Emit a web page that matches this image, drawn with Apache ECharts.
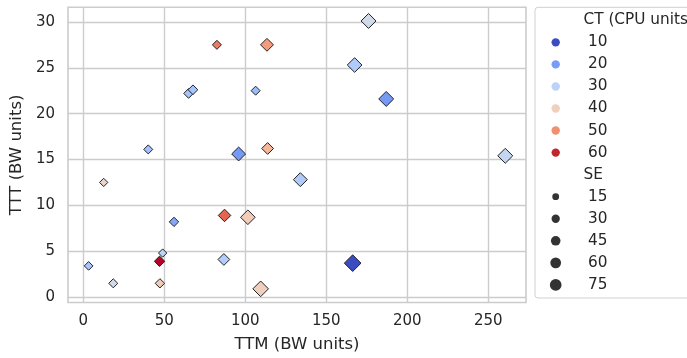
<!DOCTYPE html>
<html><head><meta charset="utf-8">
<script src="https://cdn.jsdelivr.net/npm/echarts@6/dist/echarts.min.js"></script>
<style>html,body{margin:0;padding:0;background:#fff}#c{width:687px;height:358px}</style>
</head><body><div id="c"></div>
<script>
// ---- data ----
const ttm = [176.1, 113.4, 167.5, 187.0, 113.8, 260.5, 134.0, 82.5, 65.0, 67.7, 106.4, 40.1, 95.9, 12.6, 56.0, 87.2, 101.6, 49.0, 47.1, 3.3, 86.8, 18.5, 47.3, 109.5, 166.3];
const ttt = [30.1, 27.5, 25.3, 21.6, 16.2, 15.4, 12.8, 27.5, 22.2, 22.6, 22.5, 16.1, 15.6, 12.5, 8.2, 8.9, 8.7, 4.8, 3.9, 3.4, 4.1, 1.5, 1.5, 0.9, 3.7];
const ct  = [33.5, 48.5, 28, 19.5, 44.5, 31.5, 28, 52, 26.5, 26.5, 25, 26, 19.5, 38, 21.5, 54.5, 40.5, 30, 61.5, 27, 28.5, 33, 41, 40, 10];
const se  = [58, 39, 55, 58, 30, 58, 48, 11, 15, 15, 11, 11, 48, 7, 13, 36, 55, 7, 20, 9, 30, 11, 13, 65, 76];
const ctLegend = [10, 20, 30, 40, 50, 60];
const seLegend = [15, 30, 45, 60, 75];
const xTicks = [0, 50, 100, 150, 200, 250];
const yTicks = [0, 5, 10, 15, 20, 25, 30];
const xName = 'TTM (BW units)';
const yName = 'TTT (BW units)';
const ctTitle = 'CT (CPU units)';
const seTitle = 'SE';

// ---- coolwarm colormap ----
const CW = [[59,76,192],[68,90,204],[77,104,215],[87,117,225],[98,130,234],[108,142,241],[119,154,247],[130,165,251],[141,176,254],[152,185,255],[163,194,255],[174,201,253],[184,208,249],[194,213,244],[204,217,238],[213,219,230],[221,221,221],[229,216,209],[236,211,197],[241,204,184],[245,196,172],[247,187,160],[247,177,148],[247,166,135],[244,154,123],[241,141,111],[236,127,99],[229,112,89],[222,96,77],[213,80,66],[203,62,56],[192,40,47],[180,4,38]];
function coolwarm(t){
  t = Math.max(0, Math.min(1, t));
  const p = t * 32, i = Math.min(31, Math.floor(p)), f = p - i;
  const a = CW[i], b = CW[i+1];
  return 'rgb(' + [0,1,2].map(k => Math.round(a[k] + (b[k]-a[k])*f)).join(',') + ')';
}
const ctMin = Math.min(...ct), ctMax = Math.max(...ct);
const ctColor = v => coolwarm((v - ctMin) / (ctMax - ctMin));
const seMin = Math.min(...se), seMax = Math.max(...se);
const PX = 100/72;
const areaPt = v => 18 + (v - seMin) / (seMax - seMin) * 54;
const diamondSize = v => Math.sqrt(areaPt(v)) * PX * Math.SQRT2;
const circleSize = v => Math.sqrt(areaPt(v)) * PX;

const FONT = 'DejaVu Sans';
const TXT = '#262626';

const chart = echarts.init(document.getElementById('c'), null, {renderer: 'canvas'});

// legend built from arrays
const LX = 535, LY = 7.3, ROW = 22.05, Y0 = 20.3, MX = 555.7;
const gfx = [{
  type: 'rect', shape: {x: LX, y: LY, width: 200, height: 290.7, r: 3},
  style: {fill: 'rgba(255,255,255,0.85)', stroke: '#d0d0d0', lineWidth: 1}, z: 10
}];
let row = 0;
function addText(s, x, y){
  gfx.push({type: 'text', x: x, y: y, z: 11,
    style: {text: s, fill: TXT, font: '15.3px "' + FONT + '"', verticalAlign: 'middle', align: 'left'}});
}
addText(ctTitle, 583.5, Y0 + ROW*row); row++;
ctLegend.forEach(v => {
  const y = Y0 + ROW*row;
  gfx.push({type: 'circle', shape: {cx: MX, cy: y, r: 4.2}, style: {fill: ctColor(v)}, z: 11});
  addText(String(v), 588, y); row++;
});
addText(seTitle, 583.5, Y0 + ROW*row); row++;
seLegend.forEach(v => {
  const y = Y0 + ROW*row;
  gfx.push({type: 'circle', shape: {cx: MX, cy: y, r: circleSize(v)/2}, style: {fill: '#333333'}, z: 11});
  addText(String(v), 588, y); row++;
});

chart.setOption({
  animation: false,
  backgroundColor: '#ffffff',
  textStyle: {fontFamily: FONT},
  grid: {left: 67.7, top: 7.3, right: 687 - 526, bottom: 358 - 305,
         show: true, borderColor: '#cccccc', borderWidth: 1.6, backgroundColor: '#ffffff'},
  xAxis: {
    type: 'value', min: -9.44, max: 273.3,
    name: xName, nameLocation: 'middle', nameGap: 33.5,
    nameTextStyle: {fontSize: 16.5, color: TXT, fontFamily: FONT},
    axisLine: {show: false}, axisTick: {show: false, customValues: xTicks},
    axisLabel: {customValues: xTicks, fontSize: 15, color: TXT, fontFamily: FONT, margin: 11},
    splitLine: {show: true, lineStyle: {color: '#cccccc', width: 1.4}}
  },
  yAxis: {
    type: 'value', min: -0.59, max: 31.59,
    name: yName, nameLocation: 'middle', nameGap: 31,
    nameTextStyle: {fontSize: 16.5, color: TXT, fontFamily: FONT},
    axisLine: {show: false}, axisTick: {show: false, customValues: yTicks},
    axisLabel: {customValues: yTicks, fontSize: 15, color: TXT, fontFamily: FONT, margin: 13, padding: [8, 0, 0, 0]},
    splitLine: {show: true, lineStyle: {color: '#cccccc', width: 1.4}}
  },
  series: [{
    type: 'scatter',
    symbol: 'diamond',
    data: ttm.map((x, i) => ({
      value: [x, ttt[i]],
      symbolSize: diamondSize(se[i]),
      itemStyle: {color: ctColor(ct[i]), opacity: 1, borderColor: '#222222', borderWidth: 1}
    }))
  }],
  graphic: gfx
});
</script>
</body></html>
